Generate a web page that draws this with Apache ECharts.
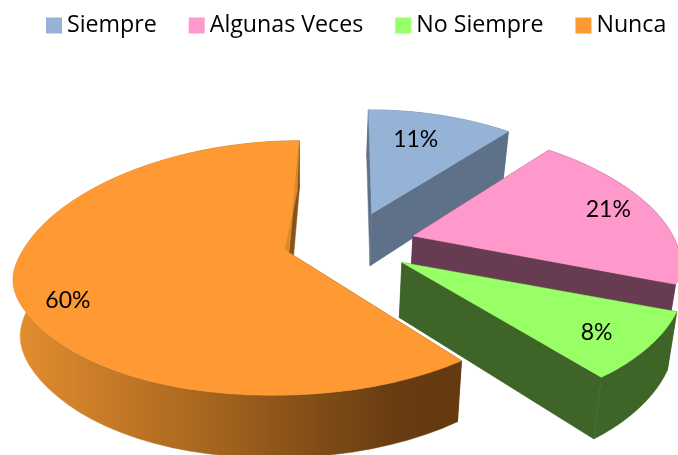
<!DOCTYPE html>
<html><head><meta charset="utf-8">
<style>html,body{margin:0;padding:0;background:#fff}#c{width:678px;height:455px}</style>
<script src="https://cdn.jsdelivr.net/npm/echarts@6/dist/echarts.min.js"></script>
</head><body><div id="c"></div>
<script>
var categories = ['Siempre', 'Algunas Veces', 'No Siempre', 'Nunca'];
var values = [11, 21, 8.2, 59.8];
var labels = ['11%', '21%', '8%', '60%'];

var topColors = ['#95B3D7', '#FF99CC', '#99FF66', '#FF9933'];
var wallColors = ['#5F7189', '#673B52', '#3F6428', null];
var labelReach = [0.60, 0.72, 0.80, 0.84];
var labelNudge = [[0, -13], [20, -8], [2, 8], [8, 20]];

var CX = 351, CY = 243, RX = 263, RY = 124, KX = 0.2, KY = 0.128, BEND = 11;
var EX = 0.244, EY = 0.26, H = 54, VX = 300, TAPER = 0.025;

var total = values.reduce(function (a, b) { return a + b; }, 0);
var starts = [], acc = 0;
values.forEach(function (v) { starts.push(acc / total * Math.PI * 2); acc += v; });

function project(U, V, z) {
  var sx = 1 / (1 - KX * V), sy = 1 / (1 - KY * V);
  var s = (V > 0 && V < 1.3) ? Math.sin(Math.PI * V / 1.3) : 0;
  var x = CX + RX * U * sx, y = CY + RY * V * sy - BEND * s * s + H * z * sy;
  return [VX + (x - VX) * (1 - TAPER * z), y];
}
function wedge(i) {
  var a0 = starts[i], a1 = a0 + values[i] / total * Math.PI * 2, m = (a0 + a1) / 2;
  var ou = EX * Math.sin(m), ov = -EY * Math.cos(m), arc = [], n = 60;
  for (var k = 0; k <= n; k++) {
    var a = a0 + (a1 - a0) * k / n;
    arc.push([ou + Math.sin(a), ov - Math.cos(a)]);
  }
  return { arc: arc, apex: [ou, ov], mid: m };
}
function poly(points, fill) {
  return { type: 'polygon', shape: { points: points }, style: { fill: fill, stroke: fill, lineWidth: 0.5 }, silent: true };
}
var orangeWall = {
  type: 'linear', global: true, x: 15, y: 0, x2: 430, y2: 0,
  colorStops: [
    { offset: 0, color: '#E38E2F' }, { offset: 0.45, color: '#A9671F' },
    { offset: 0.9, color: '#693D12' }, { offset: 1, color: '#653A11' }
  ]
};
function render(i) {
  var w = wedge(i), fill = wallColors[i] || orangeWall, kids = [];
  function P(p, z) { return project(p[0], p[1], z); }
  var first = w.arc[0], last = w.arc[w.arc.length - 1];
  kids.push(poly([P(w.apex, 0), P(first, 0), P(first, 1), P(w.apex, 1)], fill));
  kids.push(poly([P(w.apex, 0), P(last, 0), P(last, 1), P(w.apex, 1)], fill));
  var up = w.arc.map(function (p) { return P(p, 0); });
  var down = w.arc.map(function (p) { return P(p, 1); }).reverse();
  kids.push(poly(up.concat(down), fill));
  kids.push(poly([P(w.apex, 0)].concat(up), topColors[i]));
  if (i === 3) {
    var a = P(last, 0), b = P(w.apex, 0);
    kids.push(poly([[a[0] - 0.5, a[1] + 5], [b[0], b[1]], [b[0] - 4, b[1] - 3], [a[0] - 2, a[1] + 50]], '#DB8A2D'));
  }
  var r = labelReach[i];
  var lp = project(w.apex[0] + r * Math.sin(w.mid), w.apex[1] - r * Math.cos(w.mid), 0);
  kids.push({ type: 'text', silent: true, style: { x: lp[0] + labelNudge[i][0], y: lp[1] + labelNudge[i][1], text: labels[i], fill: '#000',
    font: '23px Lato, "Open Sans", sans-serif', align: 'center', verticalAlign: 'middle' } });
  return { type: 'group', children: kids };
}
var chart = echarts.init(document.getElementById('c'), null, { renderer: 'canvas' });
chart.setOption({
  animation: false,
  backgroundColor: '#fff',
  legend: {
    data: categories, top: 9, left: 41, icon: 'rect', itemWidth: 16, itemHeight: 16, itemGap: 32, selectedMode: false,
    textStyle: { fontFamily: '"Open Sans", sans-serif', fontSize: 23.2, color: '#000', padding: [0, 0, 0, 0] }
  },
  series: categories.map(function (name, i) {
    return {
      type: 'custom', name: name, coordinateSystem: 'none', data: [values[i]],
      itemStyle: { color: topColors[i] }, silent: true, clip: false,
      renderItem: function () { return render(i); }
    };
  })
});
</script></body></html>
